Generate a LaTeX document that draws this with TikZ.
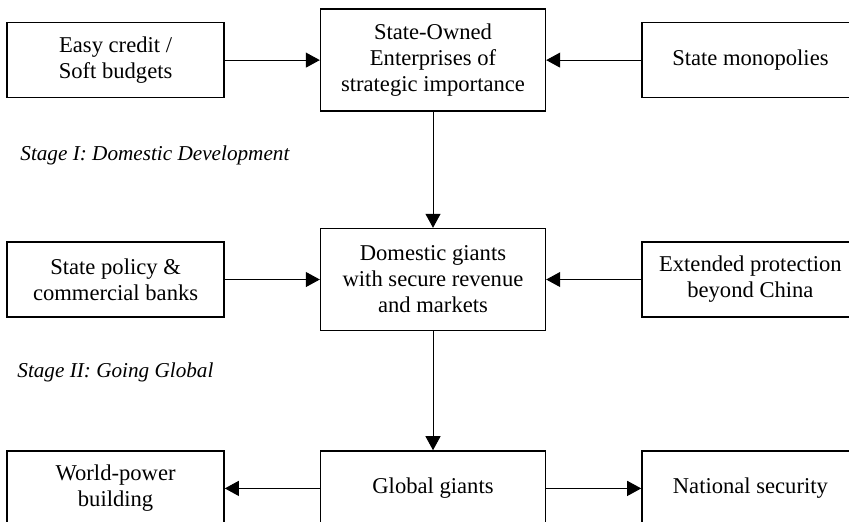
\documentclass[tikz,border=0pt]{standalone}
\usepackage{fontspec}
\setmainfont{Liberation Serif}
\usetikzlibrary{matrix,positioning,arrows.meta}

\begin{document}
\begin{tikzpicture}[
		side/.style={
			minimum width=108.5pt,
			minimum height=37.5pt
		},
		core/.style={
			minimum width=112.5pt,
			minimum height=51pt
		},
		stage/.style={
			font=\fontsize{10.6}{12}\selectfont\itshape,
			anchor=base west,
			inner sep=0pt
		},
		net/.style={
			matrix of nodes,
			inner sep=0pt,
			nodes={
				draw,
				rectangle,
				line width=0.7pt,
				anchor=center,
				inner sep=2pt,
				font=\fontsize{11.3}{13}\selectfont
			},
			column sep=47.5pt,
			row sep=58pt
		},
		>={Triangle[length=7pt,width=7.5pt]}
		]
		\useasboundingbox (0,0) rectangle (424.5pt,-260.5pt);
		\matrix[net,anchor=north west] (mat) at (3pt,-4pt)
		{
			|[side]| \parbox{104pt}{\centering Easy credit /\\Soft budgets} & |[core]| \parbox{108pt}{\centering State-Owned\\Enterprises of\\strategic importance} & |[side]| State monopolies \\
			|[side]| \parbox{104pt}{\centering State policy \&\\commercial banks} & |[core]| \parbox{108pt}{\centering Domestic giants\\with secure revenue\\and markets} & |[side]| \parbox{104pt}{\centering Extended protection\\beyond China} \\[1.5pt]
			|[side]| \parbox{104pt}{\centering World-power\\building} & |[core,minimum height=37.5pt]| Global giants & |[side]| National security \\
		};
		% Stage labels
		\node[stage] (stage1) at (10pt,-80pt) {Stage I: Domestic Development};
		\node[stage] (stage2) at (8.5pt,-188.5pt) {Stage II: Going Global};
		% Inputs -> centre
		\foreach \ai in {1,2}
		{\foreach \aii in {1,3}
			\draw[->,line width=0.5pt] (mat-\ai-\aii) -- (mat-\ai-2);
		}
		% Centre -> centre
		\foreach \ai [count=\mi from 2] in {1,2}
			\draw[->,line width=0.5pt] (mat-\ai-2) -- (mat-\mi-2);
		% Outputs
		\foreach \aii in {1,3}
			\draw[->,line width=0.5pt] (mat-3-2) -- (mat-3-\aii);
\end{tikzpicture}
\end{document}
